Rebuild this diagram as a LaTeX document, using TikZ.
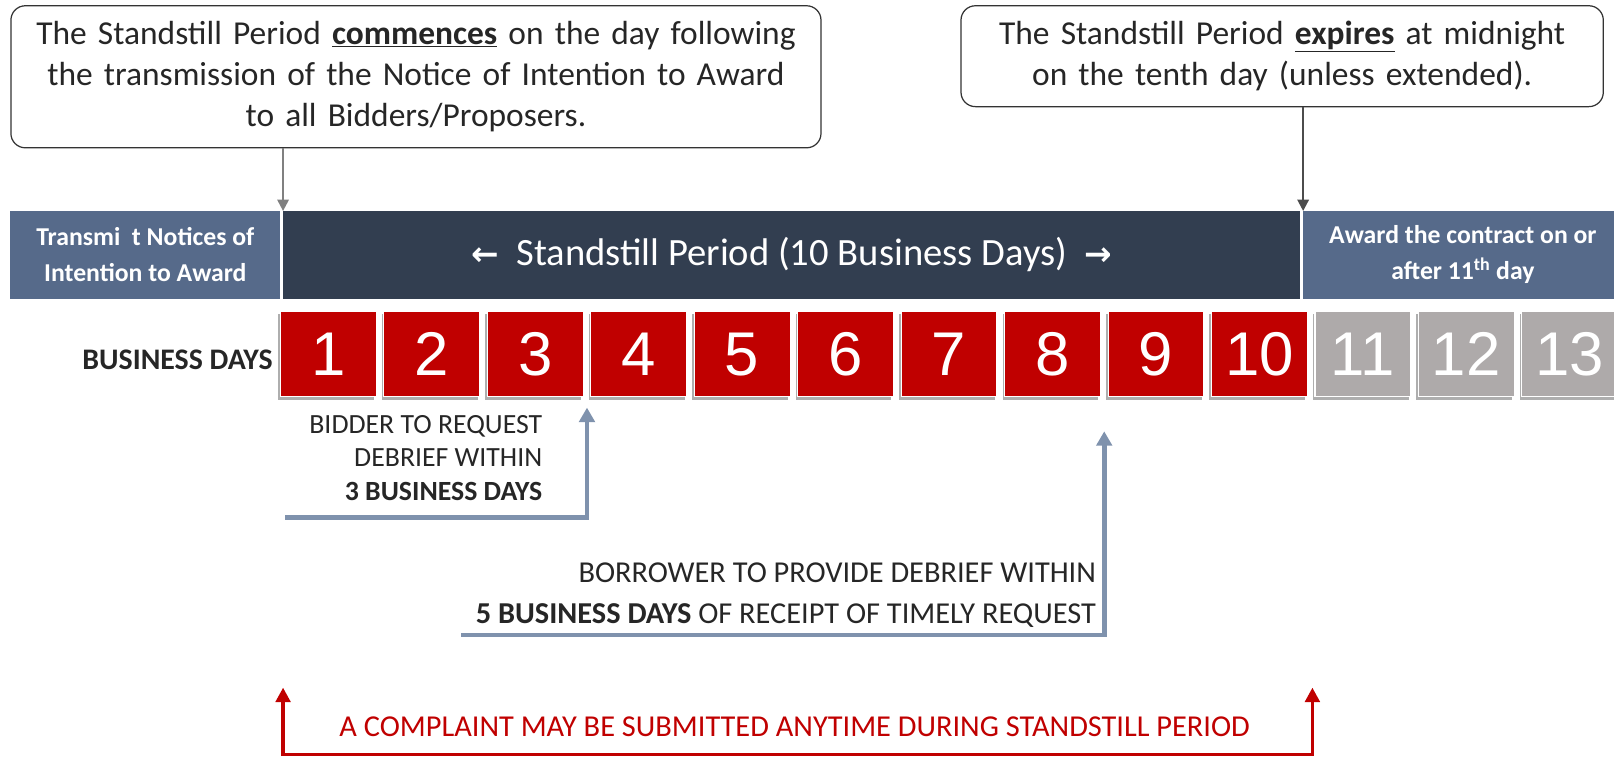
\documentclass[tikz,border=0pt]{standalone}
\usepackage{fontspec}
\setmainfont{Carlito}
\newfontfamily\digitfont{Liberation Sans}
\newfontfamily\arrowfont{DejaVu Sans}
\usepackage{tikz}
\usetikzlibrary{arrows.meta,calc,shadows}
\definecolor{darkbar}{HTML}{323E50}
\definecolor{slate}{HTML}{566A8A}
\definecolor{dayred}{HTML}{C00000}
\definecolor{daygrey}{HTML}{AEAAAA}
\definecolor{reqblue}{HTML}{7F92AD}
\definecolor{ink}{HTML}{262626}

\begin{document}
\begin{tikzpicture}[x=1pt,y=-1pt,
		callout/.style={draw=black!80,line width=1.2pt,rounded corners=14pt,align=center,text=ink,anchor=north west,inner sep=0pt,font=\fontsize{32.5}{40}\selectfont},
		barbox/.style={draw=none,anchor=north west,inner sep=0pt,minimum height=85pt,text=white,align=center},
		daybox/.style={draw=white,line width=1pt,anchor=north west,minimum width=93pt,minimum height=83pt,inner sep=0pt,text=white,font=\digitfont\fontsize{60}{60}\selectfont,drop shadow={shadow xshift=-2pt,shadow yshift=-3pt,opacity=0.7,fill=black!45}},
		callarrow/.style={line width=2pt,arrows={-Triangle[width=11pt,length=11pt]}},
		reqarrow/.style={draw=reqblue,line width=4.5pt,arrows={-Triangle[width=15pt,length=14pt]}},
		notetext/.style={text=ink,align=right,inner sep=0pt,anchor=east}]
	\useasboundingbox (0,0) rectangle (1568,735);
	%callouts
	\node (start) [callout,minimum width=787pt,minimum height=138pt,text width=787pt] at (10,5) {The Standstill Period \underline{\textbf{commences}} on the day following\\the transmission of the Notice of Intention to Award\\to all Bidders/Proposers.};
	\node (expire) [callout,minimum width=624pt,minimum height=98pt,text width=624pt] at (933,5) {The Standstill Period \underline{\textbf{expires}} at midnight\\on the tenth day (unless extended).};

	%bar
	\node (notice) [barbox,fill=slate,minimum width=262pt,font=\bfseries\fontsize{25}{35}\selectfont] at (10,205) {Transmi\ \ t Notices of\\Intention to Award};
	\node (period) [barbox,fill=darkbar,minimum width=988pt,font=\fontsize{37.5}{40}\selectfont] at (275,205) {{\arrowfont\bfseries\fontsize{32}{32}\selectfont ←}\ \ Standstill Period (10 Business Days)\ \ {\arrowfont\bfseries\fontsize{32}{32}\selectfont →}};
	\node (award) [barbox,fill=slate,minimum width=310pt,font=\bfseries\fontsize{25}{35}\selectfont] at (1266,205) {Award the contract on or\\after 11\textsuperscript{th} day};

	%days
	\foreach \d in {1,...,10}
		\node (day\d) [daybox,fill=dayred] at ({272+(\d-1)*100.5},302) {\d};
	\foreach \d in {11,12,13}
		\node (day\d) [daybox,fill=daygrey] at ({272+(\d-1)*100.5},302) {\d};
	\node (daylabel) [notetext,font=\bfseries\fontsize{29}{29}\selectfont] at (265,350) {BUSINESS DAYS};

	%notes
	\node (bidnote) [notetext,font=\fontsize{27}{33}\selectfont] at (527,445) {BIDDER TO REQUEST\\DEBRIEF WITHIN\\\textbf{3 BUSINESS DAYS}};
	\node (bornote) [notetext,font=\fontsize{29.5}{40}\selectfont] at (1065,578) {BORROWER TO PROVIDE DEBRIEF WITHIN\\\textbf{5 BUSINESS DAYS} OF RECEIPT OF TIMELY REQUEST};
	\node (cmpnote) [text=dayred,inner sep=0pt,font=\fontsize{29.5}{29.5}\selectfont] at (772,706) {A COMPLAINT MAY BE SUBMITTED ANYTIME DURING STANDSTILL PERIOD};

	\coordinate (bidfoot) at (277,503);
	\coordinate (bidtip) at ($(day3.south east)!.5!(day4.south west)+(0,10)$);
	\coordinate (borfoot) at (448,617);
	\coordinate (bortip) at ($(day8.south east)!.5!(day9.south west)+(0,33)$);
	\coordinate (cmpleft) at (275,668);
	\coordinate (cmpright) at (1275,668);

	%arrows
	\draw[callarrow,draw=black!50,fill=black!50] (start.south -| period.north west) -- (period.north west);
	\draw[callarrow,draw=black!70,fill=black!70] (expire.south -| award.north west) -- (award.north west);
	\draw[reqarrow] (bidfoot) -| (bidtip);
	\draw[reqarrow] (borfoot) -| (bortip);
	\draw[draw=dayred,line width=3.5pt,arrows={Triangle[width=14pt,length=14pt]-Triangle[width=14pt,length=14pt]}] (cmpleft) |- ($(cmpleft)!.5!(cmpright)+(0,65)$) -| (cmpright);
\end{tikzpicture}
\end{document}
